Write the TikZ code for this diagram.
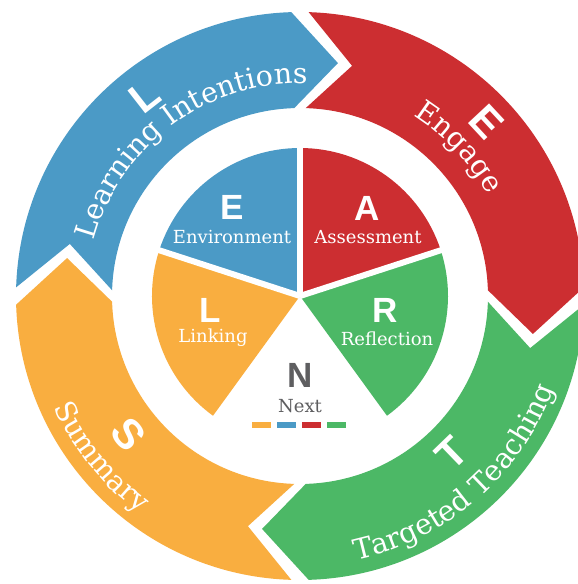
\documentclass[tikz,border=0pt]{standalone}
\usepackage{fontspec}
\usepackage{tikz}
\usetikzlibrary{decorations.text}

\newfontfamily\slabfont{DejaVu Serif}
\newfontfamily\capsfont{Liberation Sans}
\newcommand{\ringfont}{\color{white}\slabfont\fontsize{28.5}{28.5}\selectfont}

\definecolor{learnblue}{HTML}{4B9AC6}
\definecolor{engagered}{HTML}{CC2E31}
\definecolor{teachgreen}{HTML}{4CB866}
\definecolor{summorange}{HTML}{F9AE40}
\definecolor{nextgrey}{HTML}{5E5E60}

\begin{document}
\begin{tikzpicture}[x=1pt,y=1pt,
	pieletter/.style={text=white,font=\capsfont\bfseries\fontsize{35}{35}\selectfont},
	pielabel/.style={text=white,font=\slabfont\fontsize{18}{18}\selectfont},
	ringletter/.style={text=white,font=\capsfont\bfseries\fontsize{42}{42}\selectfont}]
	\clip (-300,-288) rectangle (278,296);
	\fill[white] (-300,-288) rectangle (278,296);
	% outer ring of arrows
	\foreach \col/\a in {learnblue/180,engagered/90,teachgreen/0,summorange/-90}{
		\fill[\col] ({\a-1.75}:284) arc[start angle=\a-1.75, end angle=\a-88.25, radius=284]
			-- ({\a-99.25}:236) -- ({\a-88.25}:188)
			arc[start angle=\a-88.25, end angle=\a-1.75, radius=188]
			-- ({\a-12.75}:236) -- cycle;
	}
	% inner pie
	\fill[learnblue] (0,0) -- (162:148) arc[start angle=162, end angle=90, radius=148] -- cycle;
	\fill[engagered] (0,0) -- (90:148) arc[start angle=90, end angle=18, radius=148] -- cycle;
	\fill[teachgreen] (0,0) -- (18:148) arc[start angle=18, end angle=-54, radius=148] -- cycle;
	\fill[summorange] (0,0) -- (234:148) arc[start angle=234, end angle=162, radius=148] -- cycle;
	\foreach \t in {90,18,162}
		\draw[white, line width=6pt] (0,0) -- (\t:152);

	\node[pieletter] (eletter) at (-68,89) {E};
	\node[pielabel] (elabel) at (-68,59) {Environment};
	\node[pieletter] (aletter) at (67,88) {A};
	\node[pielabel] (alabel) at (68,59) {Assessment};
	\node[pieletter] (lletter) at (-90,-14) {L};
	\node[pielabel] (llabel) at (-87,-42) {Linking};
	\node[pieletter] (rletter) at (85,-14) {R};
	\node[pielabel] (rlabel) at (87,-43) {Reflection};
	\node[pieletter, text=nextgrey] (nletter) at (0,-79) {N};
	\node[pielabel, text=nextgrey] (nlabel) at (0,-110) {Next};
	\foreach \c/\x in {summorange/-38,learnblue/-13,engagered/12,teachgreen/37}
		\fill[\c] (\x-9.5,-132) rectangle (\x+9.5,-126);

	% texts on the ring
	\path[decorate, decoration={text along path, text align=center,
		text={|\ringfont|Learning Intentions}}]
		(196.5:213) arc[start angle=196.5, end angle=56.5, radius=213];
	\path[decorate, decoration={text along path, text align=center,
		text={|\ringfont|Engage}}]
		(103:213) arc[start angle=103, end angle=-17, radius=213];
	\path[decorate, decoration={text along path, text align=center,
		text={|\ringfont|Summary}}]
		(159:270) arc[start angle=159, end angle=279, radius=270];
	\path[decorate, decoration={text along path, text align=center,
		text={|\ringfont|Targeted Teaching}}]
		(-109:270) arc[start angle=-109, end angle=11, radius=270];

	\node[ringletter, rotate=38] (lring) at (128:253) {L};
	\node[ringletter, rotate=-47] (ering) at (43:255) {E};
	\node[ringletter, rotate=-51] (sring) at (219:220) {S};
	\node[ringletter, rotate=44] (tring) at (-46:218) {T};
\end{tikzpicture}
\end{document}
